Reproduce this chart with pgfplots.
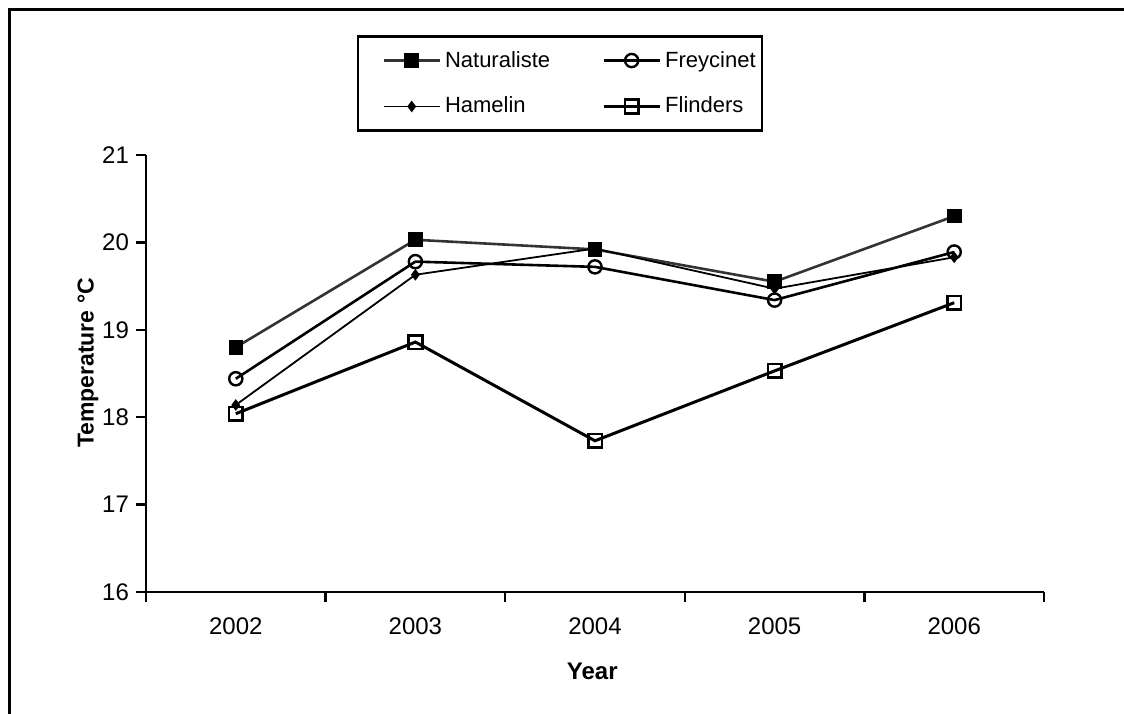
\documentclass[border=0pt]{standalone}
\usepackage{fontspec}
\setmainfont{Liberation Sans}
\usepackage{pgfplots}
\pgfplotsset{compat=1.18}
\begin{document}
\begin{tikzpicture}
\begin{axis}[
  at={(0,0)}, anchor=south west, scale only axis,
  width=449pt, height=218.5pt,
  xmin=0.5, xmax=5.5, ymin=16, ymax=21,
  axis x line*=bottom, axis y line*=left,
  axis line style={line width=1.4pt},
  tick align=outside, major tick length=5pt,
  tick style={line width=1.2pt, black},
  xtick={0.5,1.5,...,5.5}, xticklabels={},
  extra x ticks={1,2,3,4,5},
  extra x tick labels={2002,2003,2004,2005,2006},
  extra x tick style={tick style={draw=none}},
  xticklabel style={yshift=-4.5pt},
  ytick={16,17,...,21},
  /pgf/number format/assume math mode=true,
  tick label style={font=\fontsize{12}{14}\selectfont},
  xlabel={Year}, ylabel={Temperature °C},
  xlabel style={font=\bfseries\fontsize{12}{14}\selectfont,
    at={(axis description cs:0.497,0)}, anchor=center, yshift=-39.5pt},
  ylabel style={font=\bfseries\fontsize{11.5}{14}\selectfont,
    at={(axis description cs:-0.0646,0.524)}, anchor=center},
  legend style={name=leg, at={(0.2606,1.1636)}, anchor=west, draw=none,
    inner xsep=1pt, inner ysep=5pt,
    font=\fontsize{11}{13}\selectfont,
    /tikz/every even column/.append style={column sep=24pt},
    row sep=9.5pt},
  legend columns=2, legend cell align=left,
  legend image code/.code={\draw[mark repeat=2,mark phase=2,#1]
    plot coordinates {(0pt,0pt)(14pt,0pt)(28pt,0pt)};},
  clip=false,
]
% Naturaliste
\addplot[black!80, line width=1.3pt, mark=square*, mark size=3pt,
  mark options={solid, fill=black, draw=black}]
  coordinates {(1,18.80) (2,20.03) (3,19.92) (4,19.55) (5,20.30)};
% Freycinet
\addplot[black, line width=1.3pt, mark=o, mark size=3.3pt,
  mark options={line width=1.2pt, fill=white}]
  coordinates {(1,18.44) (2,19.78) (3,19.72) (4,19.34) (5,19.89)};
% Hamelin
\addplot[black, line width=0.9pt, mark=diamond*, mark size=2.2pt]
  coordinates {(1,18.14) (2,19.63) (3,19.93) (4,19.47) (5,19.83)};
% Flinders
\addplot[black, line width=1.5pt, mark=square, mark size=3.4pt,
  mark options={line width=1.3pt, fill=white}]
  coordinates {(1,18.04) (2,18.86) (3,17.73) (4,18.53) (5,19.31)};
\legend{Naturaliste,Freycinet,Hamelin,Flinders}
\end{axis}
% legend frame, wider on the left as in the reference
\draw[line width=1.4pt] ([xshift=-11pt]leg.south west) rectangle (leg.north east);
% outer frame of the figure
\draw[line width=1.5pt] (-68pt,-70pt) -- (-68pt,291pt) -- (500pt,291pt);
\pgfresetboundingbox
\useasboundingbox (-73pt,-60.5pt) rectangle (489pt,296pt);
\end{tikzpicture}
\end{document}
